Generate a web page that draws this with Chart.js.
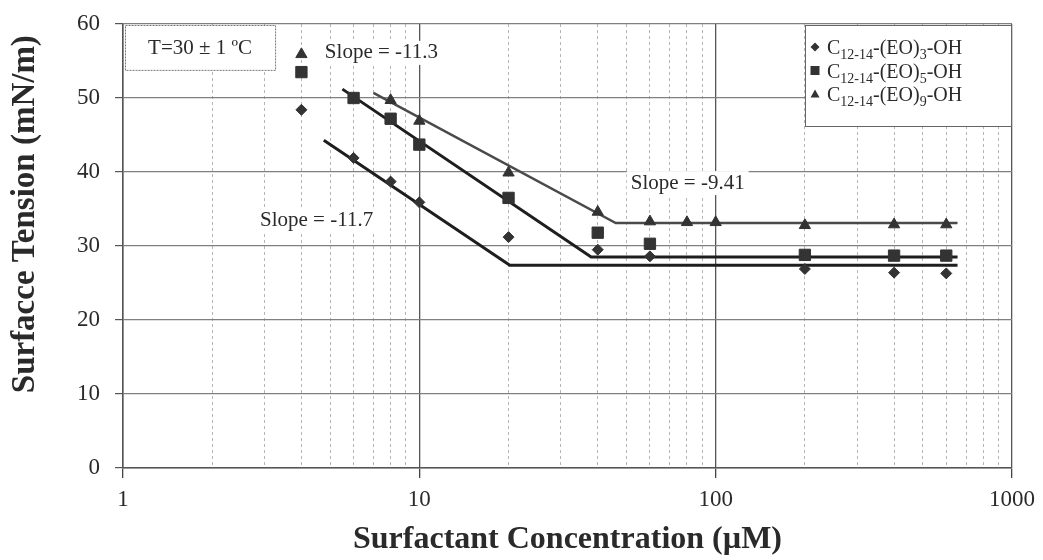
<!DOCTYPE html>
<html lang="en">
  <head>
    <meta charset="UTF-8" />
    <title>Surface Tension vs Surfactant Concentration</title>
    <script src="https://cdn.jsdelivr.net/npm/chart.js"></script>
    <style>
      body { margin: 0; background: #fff; }
    </style>
  </head>
  <body>
    <canvas id="myChart" width="1043" height="560"></canvas>

    <script>
      // data (concentration in uM, tension in mN/m)
      const concEO3 = [4, 6, 8, 10, 20, 40, 60, 200, 400, 600];
      const tensionEO3 = [48.4, 41.9, 38.7, 35.9, 31.2, 29.5, 28.6, 26.9, 26.4, 26.3];
      const concEO5 = [4, 6, 8, 10, 20, 40, 60, 200, 400, 600];
      const tensionEO5 = [53.5, 50.0, 47.2, 43.7, 36.5, 31.8, 30.3, 28.8, 28.7, 28.7];
      const concEO9 = [4, 8, 10, 20, 40, 60, 80, 100, 200, 400, 600];
      const tensionEO9 = [55.9, 49.7, 46.9, 39.9, 34.6, 33.3, 33.2, 33.2, 32.8, 32.9, 32.9];

      // fitted lines (start, break point, end)
      const fitConcEO3 = [4.76, 20.2, 655];
      const fitEO3 = [44.3, 27.4, 27.4];
      const fitConcEO5 = [5.5, 38, 655];
      const fitEO5 = [51.2, 28.5, 28.5];
      const fitConcEO9 = [7.0, 46, 655];
      const fitEO9 = [50.7, 33.1, 33.1];

      const seriesEO = ["3", "5", "9"];
      const seriesStyles = ["rectRot", "rect", "triangle"];

      const xMajorTicks = [1, 10, 100, 1000];
      const yMin = 0;
      const yMax = 60;
      const yStep = 10;

      // notes placed in data coordinates [x, y, text]
      const slopeNotes = [
        [4.8, 56.1, "Slope = -11.3"],
        [2.9, 33.5, "Slope = -11.7"],
        [51.7, 38.5, "Slope = -9.41"],
      ];
      const tempNote = "T=30 \u00b1 1 \u00baC";
      const yTitle = "Surfacce Tension (mN/m)";
      const xTitle = "Surfactant Concentration (\u00b5M)";

      const serif = "'Liberation Serif', 'Times New Roman', serif";
      const ink = "#2a2a2a";

      const pts = (xs, ys) => xs.map((x, i) => ({ x: x, y: ys[i] }));

      // all grid values of the log axis: 1..9, 10..90, 100..1000
      const xGrid = [];
      for (let d = 0; d < xMajorTicks.length - 1; d++) {
        for (let k = 1; k < 10; k++) xGrid.push(k * xMajorTicks[d]);
      }
      xGrid.push(xMajorTicks[xMajorTicks.length - 1]);
      const isMajor = (v) => xMajorTicks.includes(v);

      const markerSet = (data, style, radius) => ({
        data: data,
        showLine: false,
        pointStyle: style,
        pointRadius: radius,
        pointBackgroundColor: "#333",
        pointBorderColor: "#333",
        pointBorderWidth: 1,
      });
      const fitSet = (data, color, width) => ({
        data: data,
        showLine: true,
        pointRadius: 0,
        borderColor: color,
        borderWidth: width,
        fill: false,
      });

      const notesPlugin = {
        id: "notes",
        afterDraw(chart) {
          const ctx = chart.ctx;
          const xs = chart.scales.x;
          const ys = chart.scales.y;
          const area = chart.chartArea;
          ctx.save();

          // y axis title, sits a bit above the axis middle in the original
          ctx.save();
          ctx.translate(25, ys.getPixelForValue(34.3));
          ctx.rotate(-Math.PI / 2);
          ctx.font = "bold 33px " + serif;
          ctx.fillStyle = ink;
          ctx.textAlign = "center";
          ctx.textBaseline = "middle";
          ctx.fillText(yTitle, 0, 0);
          ctx.restore();

          // temperature box
          const bx = area.left + 2;
          const by = area.top + 1;
          const bw = xs.getPixelForValue(3.26) - bx;
          const bh = ys.getPixelForValue(53.8) - by;
          ctx.fillStyle = "#fff";
          ctx.fillRect(bx, by, bw, bh);
          ctx.strokeStyle = "#777";
          ctx.lineWidth = 1;
          ctx.setLineDash([2, 1]);
          ctx.strokeRect(bx + 0.5, by + 0.5, bw, bh);
          ctx.setLineDash([]);
          ctx.font = "21px " + serif;
          ctx.fillStyle = ink;
          ctx.textAlign = "center";
          ctx.textBaseline = "middle";
          ctx.fillText(tempNote, bx + bw / 2, by + bh / 2 + 1);

          // slope labels
          ctx.textAlign = "left";
          slopeNotes.forEach(([vx, vy, text]) => {
            const px = xs.getPixelForValue(vx);
            const py = ys.getPixelForValue(vy);
            const w = ctx.measureText(text).width;
            ctx.fillStyle = "#fff";
            ctx.fillRect(px - 4, py - 12, w + 8, 24);
            ctx.fillStyle = ink;
            ctx.fillText(text, px, py);
          });

          // legend box
          const lw = 207;
          const lh = 102;
          const lx = area.right - lw;
          const ly = area.top + 1;
          ctx.fillStyle = "#fff";
          ctx.fillRect(lx, ly, lw, lh);
          ctx.strokeStyle = "#666";
          ctx.strokeRect(lx + 0.5, ly + 0.5, lw - 1, lh - 1);

          seriesEO.forEach((n, i) => {
            const cy = ly + 22 + i * 23.5;
            const mx = lx + 10;
            ctx.fillStyle = "#333";
            ctx.beginPath();
            if (seriesStyles[i] === "rectRot") {
              ctx.moveTo(mx, cy - 4.5);
              ctx.lineTo(mx + 4.5, cy);
              ctx.lineTo(mx, cy + 4.5);
              ctx.lineTo(mx - 4.5, cy);
            } else if (seriesStyles[i] === "rect") {
              ctx.rect(mx - 4.5, cy - 4.5, 9, 9);
            } else {
              ctx.moveTo(mx, cy - 4.5);
              ctx.lineTo(mx + 4.5, cy + 3.5);
              ctx.lineTo(mx - 4.5, cy + 3.5);
            }
            ctx.closePath();
            ctx.fill();

            // C12-14-(EO)n-OH with subscripts
            const base = cy + 7;
            let tx = lx + 22;
            ctx.fillStyle = ink;
            ctx.textBaseline = "alphabetic";
            const parts = [
              ["C", false],
              ["12-14", true],
              ["-(EO)", false],
              [n, true],
              ["-OH", false],
            ];
            parts.forEach(([t, sub]) => {
              ctx.font = (sub ? "14px " : "20px ") + serif;
              ctx.fillText(t, tx, sub ? base + 5 : base);
              tx += ctx.measureText(t).width;
            });
          });

          ctx.restore();
        },
      };

      const ctx = document.getElementById("myChart");

      new Chart(ctx, {
        type: "scatter",
        data: {
          datasets: [
            markerSet(pts(concEO3, tensionEO3), seriesStyles[0], 5.5),
            markerSet(pts(concEO5, tensionEO5), seriesStyles[1], 8),
            markerSet(pts(concEO9, tensionEO9), seriesStyles[2], 6.5),
            fitSet(pts(fitConcEO3, fitEO3), "#1e1e1e", 3),
            fitSet(pts(fitConcEO5, fitEO5), "#1e1e1e", 3),
            fitSet(pts(fitConcEO9, fitEO9), "#4a4a4a", 2.5),
          ],
        },
        options: {
          responsive: false,
          animation: false,
          layout: { padding: { left: 0, top: 24, right: 31, bottom: 0 } },
          plugins: {
            legend: { display: false },
            tooltip: { enabled: false },
          },
          scales: {
            x: {
              type: "logarithmic",
              min: 1,
              max: 1000,
              afterBuildTicks: (scale) => {
                scale.ticks = xGrid.map((v) => ({ value: v }));
              },
              afterFit: (scale) => {
                scale.height = 92;
              },
              ticks: {
                autoSkip: false,
                maxRotation: 0,
                padding: 8,
                color: ink,
                font: { family: serif, size: 23 },
                callback: (v) => (isMajor(v) ? String(v) : ""),
              },
              grid: {
                color: (c) => (isMajor(c.tick.value) ? "#555" : "#b5b5b5"),
                lineWidth: (c) => (isMajor(c.tick.value) ? 1.3 : 1),
                tickLength: 10,
                tickColor: (c) => (isMajor(c.tick.value) ? "#444" : "rgba(0,0,0,0)"),
              },
              border: {
                color: "#555",
                width: 1.5,
                dash: (c) => (c.tick && !isMajor(c.tick.value) ? [3, 3] : []),
              },
              title: {
                display: true,
                text: xTitle,
                color: ink,
                font: { family: serif, size: 32, weight: "bold" },
                padding: { top: 0, bottom: 1 },
              },
            },
            y: {
              min: yMin,
              max: yMax,
              afterFit: (scale) => {
                scale.width = 123;
                scale.paddingTop = 0;
                scale.paddingBottom = 0;
              },
              ticks: {
                stepSize: yStep,
                padding: 15,
                color: ink,
                font: { family: serif, size: 23 },
              },
              grid: {
                color: "#808080",
                lineWidth: 1.2,
                tickLength: 8,
                tickColor: "#555",
              },
              border: { color: "#555", width: 1.5 },
              title: { display: false },
            },
          },
        },
        plugins: [notesPlugin],
      });
    </script>
  </body>
</html>
